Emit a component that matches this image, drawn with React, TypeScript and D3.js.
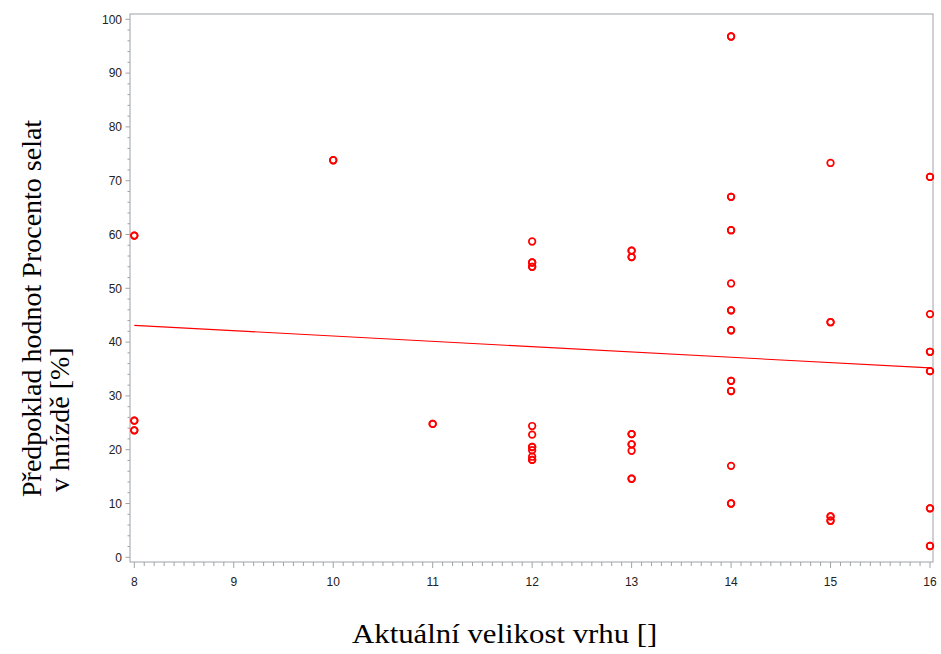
import React from "react";
import * as d3 from "d3";

// Litter size (x) and observed percentage of piglets in the nest (y)
const litterSize = [
  8, 8, 8, 8, 8, 8,
  10, 10,
  11, 11,
  12, 12, 12, 12, 12, 12, 12, 12, 12, 12, 12, 12, 12,
  13, 13, 13, 13, 13, 13, 13, 13, 13, 13, 13,
  14, 14, 14, 14, 14, 14, 14, 14, 14, 14, 14, 14, 14, 14, 14, 14, 14, 14,
  15, 15, 15, 15, 15, 15, 15,
  16, 16, 16, 16, 16, 16, 16, 16, 16, 16, 16,
];
const pigletPct = [
  59.8, 59.8, 25.4, 25.4, 23.6, 23.6,
  73.8, 73.8,
  24.8, 24.8,
  58.7, 54.8, 54.8, 54.0, 54.0, 24.4, 22.8, 20.5, 20.5, 19.9, 18.7, 18.1, 18.1,
  57.0, 57.0, 55.8, 55.8, 22.9, 22.9, 21.0, 21.0, 19.8, 14.6, 14.6,
  96.8, 96.8, 67.0, 67.0, 60.8, 60.8, 50.9, 45.9, 45.9, 42.2, 42.2, 32.8, 32.8, 30.9, 30.9, 17.0, 10.0, 10.0,
  73.3, 43.7, 43.7, 7.6, 7.6, 6.8, 6.8,
  70.7, 70.7, 45.2, 38.2, 38.2, 34.6, 34.6, 9.1, 9.1, 2.1, 2.1,
];

// Fitted regression line (endpoints)
const fitX = [8, 16];
const fitY = [43.1, 35.2];

const xTicks = [8, 9, 10, 11, 12, 13, 14, 15, 16];
const yTicks = [0, 10, 20, 30, 40, 50, 60, 70, 80, 90, 100];

const xTitle = "Aktuální velikost vrhu []";
const yTitle1 = "Předpoklad hodnot Procento selat";
const yTitle2 = "v hnízdě [%]";

const W = 941;
const H = 654;
const frame = { left: 130, right: 933, top: 14, bottom: 562 };

export default function App() {
  const x = d3.scaleLinear().domain([8, 16]).range([134.3, 930]);
  const y = d3.scaleLinear().domain([0, 100]).range([557.3, 19.3]);

  const xMinor = d3.range(80, 161).map((v) => v / 10).filter((v) => !Number.isInteger(v));
  const yMinor = d3.range(0, 101, 2).filter((v) => v % 10 !== 0);

  const line = d3
    .line<number>()
    .x((_, i) => x(fitX[i]))
    .y((d) => y(d));

  const axisColor = "#9ea3a8";
  const tickFont = "'Liberation Sans', Arial, sans-serif";
  const titleFont = "'Liberation Serif', 'Times New Roman', serif";

  return (
    <svg
      width={W}
      height={H}
      style={{ position: "absolute", left: 0, top: 0, background: "#fff" }}
    >
      {/* plot frame */}
      <rect
        x={frame.left}
        y={frame.top}
        width={frame.right - frame.left}
        height={frame.bottom - frame.top}
        fill="none"
        stroke={axisColor}
        strokeWidth={1}
      />

      {/* y axis ticks */}
      {yMinor.map((v) => (
        <line key={"ym" + v} x1={frame.left - 2.5} x2={frame.left} y1={y(v)} y2={y(v)} stroke={axisColor} />
      ))}
      {yTicks.map((v) => (
        <g key={"y" + v}>
          <line x1={frame.left - 4.5} x2={frame.left} y1={y(v)} y2={y(v)} stroke={axisColor} />
          <text
            x={frame.left - 8}
            y={y(v)}
            dy="0.36em"
            textAnchor="end"
            fontFamily={tickFont}
            fontSize={12}
            fill="#222"
          >
            {v}
          </text>
        </g>
      ))}

      {/* x axis ticks */}
      {xMinor.map((v) => (
        <line key={"xm" + v} x1={x(v)} x2={x(v)} y1={frame.bottom} y2={frame.bottom + 4} stroke={axisColor} />
      ))}
      {xTicks.map((v) => (
        <g key={"x" + v}>
          <line x1={x(v)} x2={x(v)} y1={frame.bottom} y2={frame.bottom + 6} stroke={axisColor} />
          <text
            x={x(v)}
            y={586}
            textAnchor="middle"
            fontFamily={tickFont}
            fontSize={12}
            fill="#222"
          >
            {v}
          </text>
        </g>
      ))}

      {/* regression line */}
      <path d={line(fitY) ?? ""} fill="none" stroke="#ff0000" strokeWidth={1.1} />

      {/* observations */}
      {pigletPct.map((v, i) => (
        <circle
          key={"p" + i}
          cx={x(litterSize[i])}
          cy={y(v)}
          r={3.3}
          fill="none"
          stroke="#ff0000"
          strokeWidth={1.7}
        />
      ))}

      {/* axis titles */}
      <text
        transform="translate(352,643) scale(1.1,1)"
        fontFamily={titleFont}
        fontSize={28}
        fill="#000"
      >
        {xTitle}
      </text>
      <text
        transform={`translate(41,497) rotate(-90)`}
        fontFamily={titleFont}
        fontSize={28}
        fill="#000"
      >
        {yTitle1}
      </text>
      <text
        transform={`translate(69,492) rotate(-90)`}
        fontFamily={titleFont}
        fontSize={28}
        fill="#000"
      >
        {yTitle2}
      </text>
    </svg>
  );
}
